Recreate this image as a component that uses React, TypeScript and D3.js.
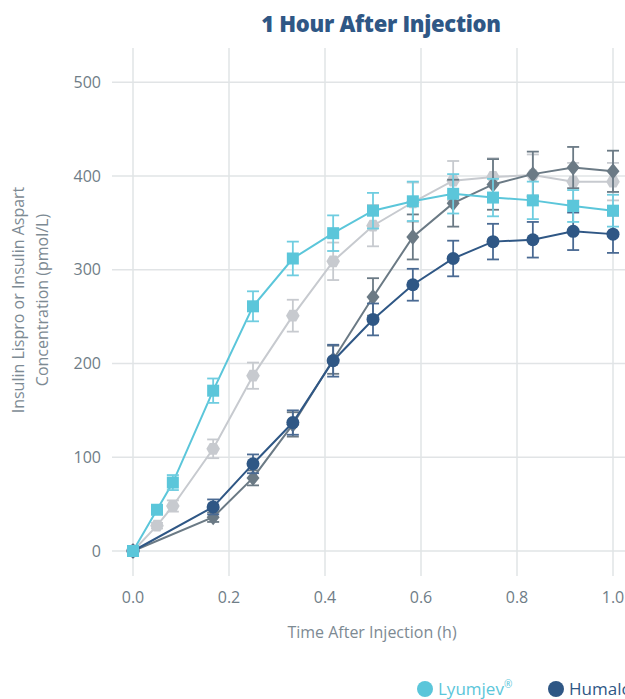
import React from "react";
import * as d3 from "d3";

// sampling times (h)
const times = [0, 0.05, 0.083, 0.167, 0.25, 0.333, 0.417, 0.5, 0.583, 0.667, 0.75, 0.833, 0.917, 1.0];

// mean concentrations (pmol/L)
const lyumjev = [0, 44, 73, 171, 261, 312, 339, 363, 373, 381, 377, 374, 368, 363];
const humalog = [0, null, null, 47, 93, 137, 203, 247, 284, 312, 330, 332, 341, 338];
const fiasp = [0, null, null, 36, 78, 135, 204, 271, 335, 371, 391, 402, 409, 405];
const novolog = [0, 27, 48, 109, 187, 251, 309, 347, 372, 395, 399, 401, 394, 394];

// error bars (+/-)
const lyumjevErr = [0, 4, 8, 13, 16, 18, 19, 19, 21, 21, 20, 20, 17, 17];
const humalogErr = [0, 0, 0, 8, 10, 13, 17, 17, 17, 19, 19, 19, 20, 20];
const fiaspErr = [0, 0, 0, 5, 8, 13, 15, 20, 24, 25, 27, 24, 22, 22];
const novologErr = [0, 3, 6, 10, 14, 17, 20, 22, 21, 21, 20, 22, 20, 20];

const xTicks = [0, 0.2, 0.4, 0.6, 0.8, 1.0];
const yTicks = [0, 100, 200, 300, 400, 500];

// only the first two legend entries fit on the page (the second runs off the edge, like the original)
const legendNames = ["Lyumjev", "Humalog"];

const W = 625;
const H = 699;
const font = "'Open Sans', 'Noto Sans', sans-serif";

function Marker({ shape, x, y, color }) {
  if (shape === "square") {
    return <rect x={x - 6} y={y - 6} width={12} height={12} fill={color} />;
  }
  if (shape === "diamond") {
    return <path d={`M${x},${y - 8}L${x + 6.5},${y}L${x},${y + 8}L${x - 6.5},${y}Z`} fill={color} />;
  }
  if (shape === "hex") {
    const pts = d3.range(6).map((i) => {
      const a = (Math.PI / 3) * i;
      return `${x + 6.8 * Math.cos(a)},${y + 6.8 * Math.sin(a)}`;
    });
    return <polygon points={pts.join(" ")} fill={color} />;
  }
  return <circle cx={x} cy={y} r={6.5} fill={color} />;
}

export default function App() {
  const x = d3.scaleLinear().domain([0, 1]).range([133, 613]);
  const y = d3.scaleLinear().domain([0, 400]).range([551, 176]);

  const plotLeft = 112, plotRight = 625, plotTop = 48, plotBottom = 576;

  // drawing order: bottom to top
  const series = [
    { name: "NovoLog", vals: novolog, err: novologErr, color: "#c7cacf", bar: "#c7cacf", shape: "hex" },
    { name: "Fiasp", vals: fiasp, err: fiaspErr, color: "#6b7a85", bar: "#6b7a85", shape: "diamond" },
    { name: "Humalog", vals: humalog, err: humalogErr, color: "#2f5785", bar: "#4a6a93", shape: "circle" },
    { name: "Lyumjev", vals: lyumjev, err: lyumjevErr, color: "#5bc6da", bar: "#6fcde0", shape: "square" },
  ];

  const line = d3.line<[number, number]>().x((d) => x(d[0])).y((d) => y(d[1]));

  const legendColors = { Lyumjev: "#5bc6da", Humalog: "#2f5785" };
  const legendX = [425, 556];

  return (
    <svg width={W} height={H} style={{ position: "absolute", left: 0, top: 0, background: "#fff" }} fontFamily={font}>
      <text x={381} y={32} textAnchor="middle" fontSize={22} fontWeight={800} fill="#2f5785" letterSpacing={-0.3}>
        1 Hour After Injection
      </text>

      {/* grid */}
      {yTicks.map((t) => (
        <g key={"y" + t}>
          <line x1={plotLeft} x2={plotRight} y1={y(t)} y2={y(t)} stroke="#e1e4e6" strokeWidth={1.5} />
          <text x={101} y={y(t)} dy="0.35em" textAnchor="end" fontSize={16} fill="#6f7d87">{t}</text>
        </g>
      ))}
      {xTicks.map((t) => (
        <g key={"x" + t}>
          <line x1={x(t)} x2={x(t)} y1={plotTop} y2={plotBottom} stroke="#e1e4e6" strokeWidth={1.5} />
          <text x={x(t)} y={603} textAnchor="middle" fontSize={16} fill="#6f7d87">{d3.format(".1f")(t)}</text>
        </g>
      ))}

      <text x={372} y={638} textAnchor="middle" fontSize={16} fill="#7d8a93">Time After Injection (h)</text>
      <g transform="translate(24,300) rotate(-90)">
        <text x={0} y={0} textAnchor="middle" fontSize={16} fill="#7d8a93">Insulin Lispro or Insulin Aspart</text>
        <text x={0} y={24} textAnchor="middle" fontSize={16} fill="#7d8a93">Concentration (pmol/L)</text>
      </g>

      {series.map((s) => {
        const pts = times
          .map((t, i) => ({ t, v: s.vals[i], e: s.err[i] }))
          .filter((d) => d.v !== null);
        return (
          <g key={s.name}>
            <path d={line(pts.map((d) => [d.t, d.v]))} fill="none" stroke={s.color} strokeWidth={2} />
            {pts.filter((d) => d.e > 0).map((d) => (
              <g key={d.t} stroke={s.bar} strokeWidth={1.8}>
                <line x1={x(d.t)} x2={x(d.t)} y1={y(d.v - d.e)} y2={y(d.v + d.e)} />
                <line x1={x(d.t) - 6} x2={x(d.t) + 6} y1={y(d.v - d.e)} y2={y(d.v - d.e)} />
                <line x1={x(d.t) - 6} x2={x(d.t) + 6} y1={y(d.v + d.e)} y2={y(d.v + d.e)} />
              </g>
            ))}
            {pts.map((d) => (
              <Marker key={d.t} shape={s.shape} x={x(d.t)} y={y(d.v)} color={s.color} />
            ))}
          </g>
        );
      })}

      {/* legend */}
      {legendNames.map((n, i) => (
        <g key={n}>
          <circle cx={legendX[i]} cy={689} r={8} fill={legendColors[n]} />
          <text x={legendX[i] + 13} y={695} fontSize={17} fill={legendColors[n]}>
            {n}
            <tspan fontSize={10} dy={-7}>®</tspan>
          </text>
        </g>
      ))}
    </svg>
  );
}
